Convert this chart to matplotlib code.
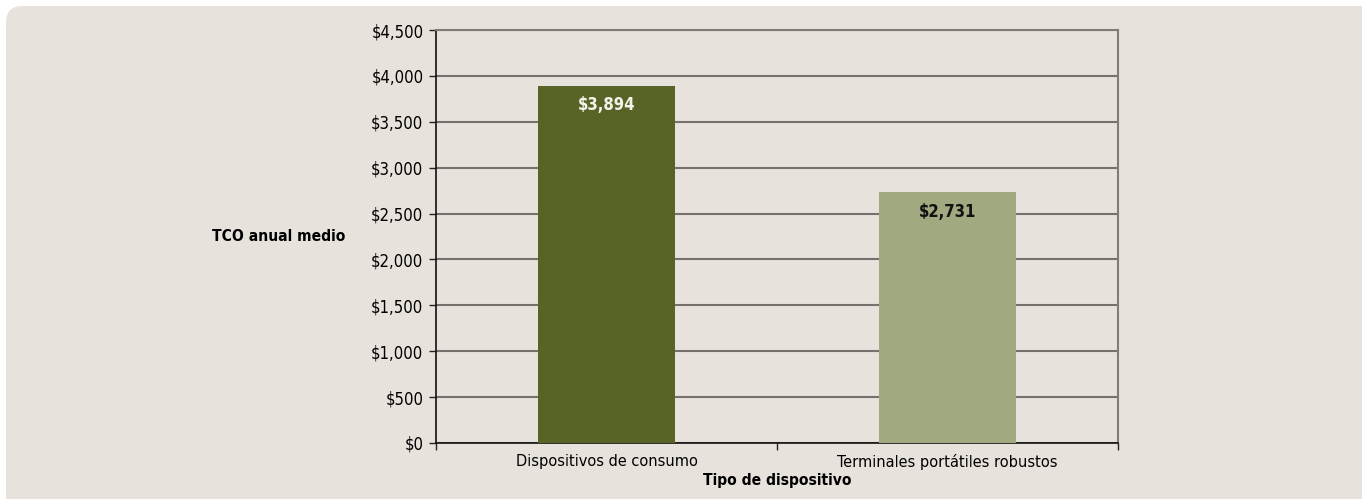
import matplotlib
matplotlib.use('Agg')
import matplotlib.pyplot as plt
from matplotlib.patches import FancyBboxPatch
from matplotlib.ticker import FixedLocator, StrMethodFormatter

# data
categories = ['Dispositivos de consumo', 'Terminales portátiles robustos']
tco_values = [3894, 2731]
bar_colors = ['#586426', '#a1a980']
label_colors = ['#f4f2ea', '#111111']

plt.rcParams['font.family'] = ['DejaVu Sans']
plt.rcParams['font.stretch'] = 'condensed'

fig = plt.figure(figsize=(13.62, 4.99), dpi=100)
fig.patch.set_facecolor('white')

# rounded background panel
bg = FancyBboxPatch((6 / 1362, -0.1), 1.2, 1.1 - 6 / 499,
                    boxstyle='round,pad=0,rounding_size=0.012',
                    transform=fig.transFigure, facecolor='#e8e2dc',
                    edgecolor='none', mutation_aspect=1362 / 499, zorder=-5)
fig.patches.append(bg)

ax = fig.add_axes([436 / 1362, 56 / 499, 682 / 1362, 413 / 499])
ax.set_facecolor('#e8e2dc')

x = list(range(len(categories)))
bars = ax.bar(x, tco_values, width=0.40, color=bar_colors, zorder=3)

for b, v, c in zip(bars, tco_values, label_colors):
    ax.annotate('${:,}'.format(v), (b.get_x() + b.get_width() / 2, v),
                xytext=(0, -14), textcoords='offset points',
                ha='center', va='center', fontsize=12, fontweight='bold',
                color=c, zorder=4)

ax.set_ylim(0, 4500)
ax.set_xlim(-0.5, 1.5)
ax.yaxis.set_major_locator(FixedLocator(range(0, 4501, 500)))
ax.yaxis.set_major_formatter(StrMethodFormatter('${x:,.0f}'))
ax.yaxis.grid(True, color='#75726d', linewidth=1.5, zorder=1)

ax.xaxis.set_major_locator(FixedLocator([-0.5, 0.5, 1.5]))
ax.xaxis.set_major_formatter(plt.NullFormatter())
ax.set_xticks(x, categories, minor=True)
ax.tick_params(axis='x', which='minor', length=0, labelsize=11.7, pad=8)
ax.tick_params(axis='x', which='major', length=5, width=1, color='#222222')
ax.tick_params(axis='y', length=5, width=1, labelsize=12, color='#222222', pad=4)

for side in ['left', 'bottom']:
    ax.spines[side].set_color('#111111')
    ax.spines[side].set_linewidth(1.2)
for side in ['top', 'right']:
    ax.spines[side].set_color('#807d78')
    ax.spines[side].set_linewidth(1.5)

ax.set_xlabel('Tipo de dispositivo', fontsize=11.2, fontweight='bold', labelpad=2)
fig.text(279 / 1362, 1 - 237 / 499, 'TCO anual medio', ha='center', va='center',
         fontsize=11.2, fontweight='bold')

plt.savefig('out.png', dpi=100, facecolor=fig.get_facecolor())
